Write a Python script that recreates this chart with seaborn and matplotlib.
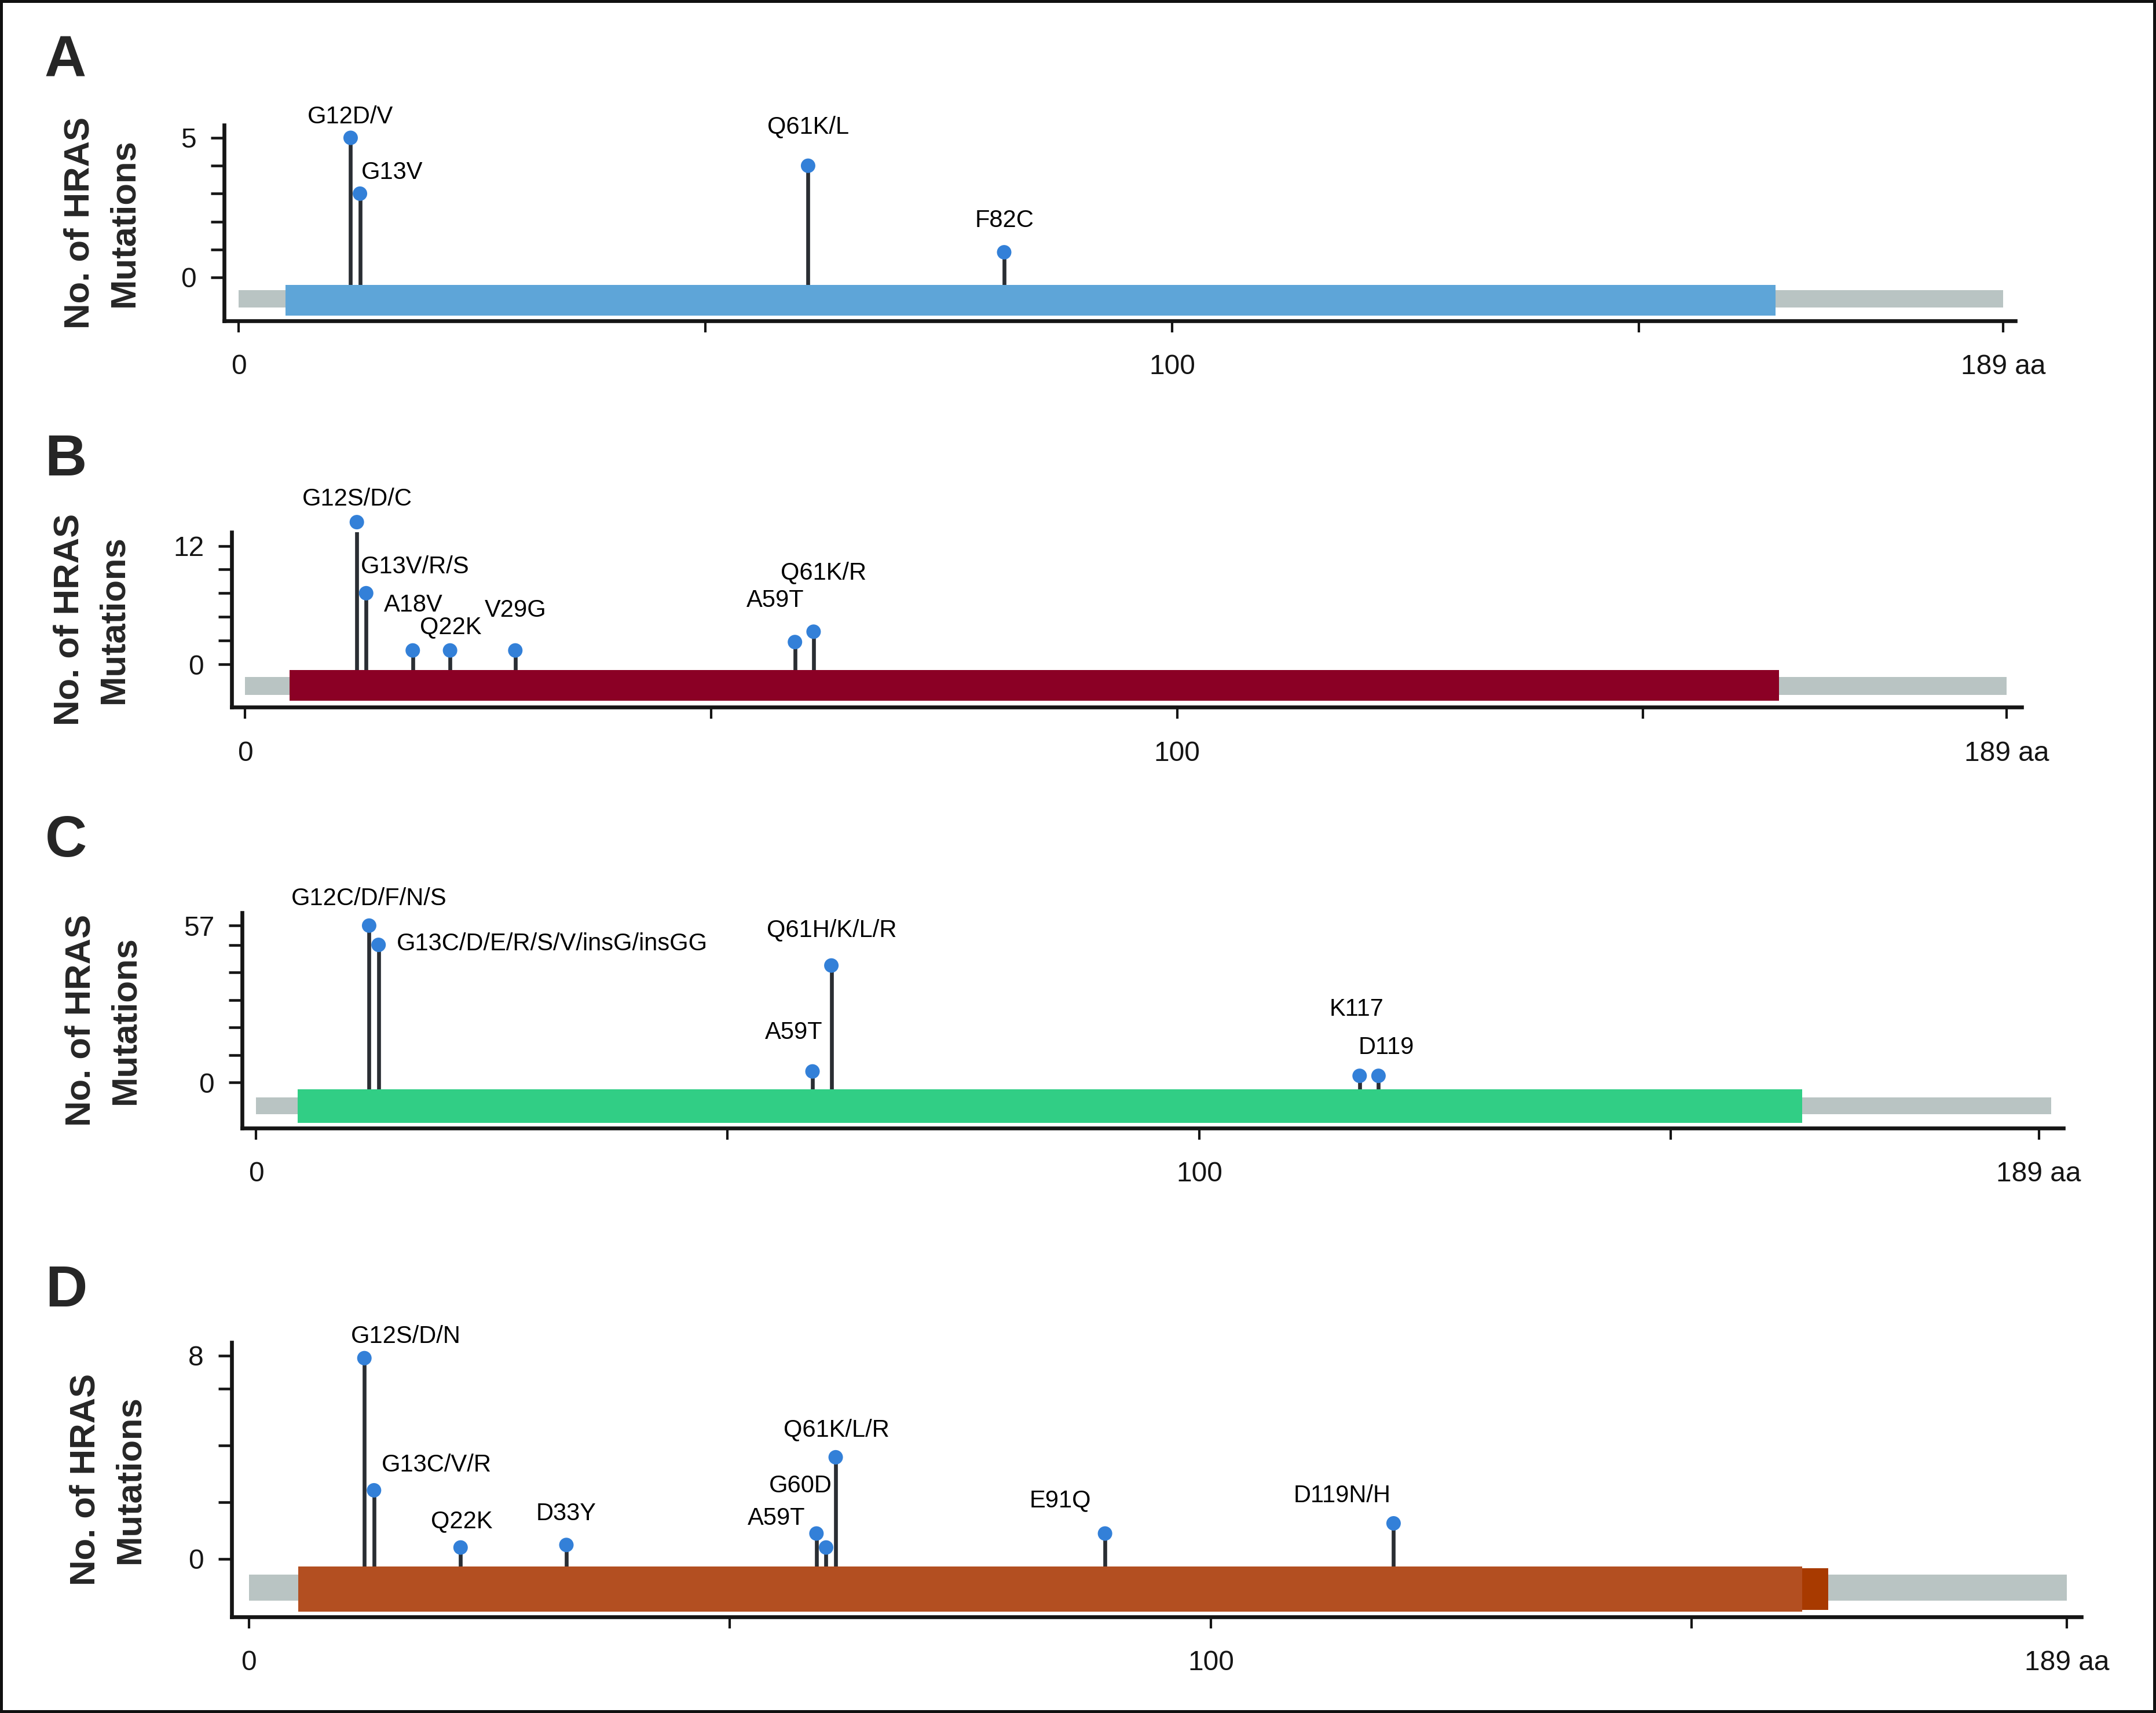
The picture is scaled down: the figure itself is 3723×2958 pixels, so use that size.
import numpy as np
import pandas as pd
import matplotlib
matplotlib.use("Agg")
import matplotlib.pyplot as plt
import seaborn as sns

# ---------------- data ----------------
x_ticks = [0, 50, 100, 150, 189]
x_tick_labels = ["0", "", "100", "", "189 aa"]
panel_letters = ["A", "B", "C", "D"]
y_label = "No. of HRAS\nMutations"

a_pos = [12, 13, 61, 82]
a_count = [5, 3, 4, 0.9]
a_label = ["G12D/V", "G13V", "Q61K/L", "F82C"]
a_yticks = [0, 1, 2, 3, 4, 5]
a_backbone = (0, 189)
a_domains = [(5, 164.6)]

b_pos = [12, 13, 18, 22, 29, 59, 61]
b_count = [14.4, 7.2, 1.4, 1.4, 1.4, 2.25, 3.3]
b_label = ["G12S/D/C", "G13V/R/S", "A18V", "Q22K", "V29G", "A59T", "Q61K/R"]
b_yticks = [0, 2.4, 4.8, 7.2, 9.6, 12]
b_backbone = (0, 189)
b_domains = [(4.8, 164.6)]

c_pos = [12, 13, 59, 61, 117, 119]
c_count = [57, 50, 4, 42.5, 2.4, 2.4]
c_label = ["G12C/D/F/N/S", "G13C/D/E/R/S/V/insG/insGG", "A59T", "Q61H/K/L/R", "K117", "D119"]
c_yticks = [0, 10, 20, 30, 40, 50, 57]
c_backbone = (0, 190.3)
c_domains = [(4.4, 163.9)]

d_pos = [12, 13, 22, 33, 59, 60, 61, 89, 119]
d_count = [7.9, 2.7, 0.45, 0.55, 1.0, 0.45, 4.0, 1.0, 1.4]
d_label = ["G12S/D/N", "G13C/V/R", "Q22K", "D33Y", "A59T", "G60D", "Q61K/L/R", "E91Q", "D119N/H"]
d_yticks = [0, 2.23, 4.46, 6.7, 8]
d_backbone = (0, 189)
d_domains = [(5.1, 161.5), (161.5, 164.2)]

# ---------------- style / layout ----------------
W, H, DPI = 3723, 2958, 300
PX2PT = 72 / DPI

gray = "#b9c4c3"
dot_color = "#3380d8"
stem_color = "#2a2e33"
axis_color = "#151515"

panels = [
    dict(pos=a_pos, count=a_count, label=a_label, yticks=a_yticks, backbone=a_backbone,
         domains=a_domains, dom_colors=["#5ea5d8"], dom_fracs=[(0.027, 0.183)], gray_frac=(0.068, 0.157),
         box=(387, 3480, 216, 554), xlim=(-1.55, 190.3), ylim=(-1.556, 5.456),
         ylab_cx=176, letter_xy=(113, 106),
         offsets=[(0, 36, "center"), (2, 36, "left"), (0, 67, "center"), (1, 55, "center")]),
    dict(pos=b_pos, count=b_count, label=b_label, yticks=b_yticks, backbone=b_backbone,
         domains=b_domains, dom_colors=["#8b0025"], dom_fracs=[(0.036, 0.212)], gray_frac=(0.070, 0.173),
         box=(400, 3491, 919, 1221), xlim=(-1.43, 190.6), ylim=(-4.34, 13.38),
         ylab_cx=158, letter_xy=(113, 795),
         offsets=[(1, 40, "center"), (-9, 45, "left"), (1, 78, "center"), (1, 40, "center"),
                  (0, 69, "center"), (-34, 72, "center"), (17, 102, "center")]),
    dict(pos=c_pos, count=c_count, label=c_label, yticks=c_yticks, backbone=c_backbone,
         domains=c_domains, dom_colors=["#31ce85"], dom_fracs=[(0.023, 0.180)], gray_frac=(0.062, 0.142),
         box=(418, 3563, 1576, 1947.5), xlim=(-1.47, 191.6), ylim=(-16.5, 61.7),
         ylab_cx=178, letter_xy=(114, 1453),
         offsets=[(0, 46, "center"), (31, 2, "left"), (-32, 67, "center"), (1, 61, "center"),
                  (-5, 115, "center"), (13, 49, "center")]),
    dict(pos=d_pos, count=d_count, label=d_label, yticks=d_yticks, backbone=d_backbone,
         domains=d_domains, dom_colors=["#b34f21", "#a83a00"], dom_fracs=[(0.019, 0.184), (0.025, 0.177)],
         gray_frac=(0.059, 0.154),
         box=(400, 3594, 2318, 2792), xlim=(-1.8, 190.5), ylim=(-2.28, 8.52),
         ylab_cx=186, letter_xy=(114, 2230),
         offsets=[(72, 37, "center"), (108, 43, "center"), (2, 45, "center"), (0, 54, "center"),
                  (-69, 26, "center"), (-44, 106, "center"), (1, 47, "center"), (-77, 57, "center"),
                  (-89, 47, "center")]),
]

sns.set_style("ticks")
plt.rcParams["font.family"] = ["Liberation Sans", "DejaVu Sans"]
plt.rcParams["axes.edgecolor"] = axis_color

fig = plt.figure(figsize=(W / DPI, H / DPI), dpi=DPI)
fig.patch.set_facecolor("white")

for letter, p in zip(panel_letters, panels):
    l, r, t, b = p["box"]
    ax = fig.add_axes([l / W, 1 - b / H, (r - l) / W, (b - t) / H])
    ax.set_facecolor("white")
    ax.set_xlim(*p["xlim"])
    ax.set_ylim(*p["ylim"])

    # protein backbone and domains
    ax.axvspan(p["backbone"][0], p["backbone"][1], ymin=p["gray_frac"][0], ymax=p["gray_frac"][1],
               color=gray, lw=0, zorder=1)
    for (s, e), c, (f0, f1) in zip(p["domains"], p["dom_colors"], p["dom_fracs"]):
        ax.axvspan(s, e, ymin=f0, ymax=f1, color=c, lw=0, zorder=2)

    # lollipop stems (start inside the domain bar, hidden beneath it)
    y0, y1 = p["ylim"]
    base = y0 + 0.1 * (y1 - y0)
    ax.vlines(p["pos"], base, p["count"], colors=stem_color, lw=1.6, zorder=1.5)

    df = pd.DataFrame({"pos": p["pos"], "count": p["count"]})
    sns.scatterplot(data=df, x="pos", y="count", ax=ax, color=dot_color, s=36,
                    edgecolor="none", linewidth=0, zorder=3, clip_on=False, legend=False)

    for x, c, lab, (dx, dy, ha) in zip(p["pos"], p["count"], p["label"], p["offsets"]):
        ax.annotate(lab, xy=(x, c), xytext=(dx * PX2PT, dy * PX2PT), textcoords="offset points",
                    ha=ha, va="center", fontsize=10, color="black", annotation_clip=False)

    # axes styling
    sns.despine(ax=ax)
    for side in ["left", "bottom"]:
        ax.spines[side].set_linewidth(1.6)
        ax.spines[side].set_color(axis_color)
    ax.set_xticks(x_ticks)
    ax.set_xticklabels(x_tick_labels)
    yt = p["yticks"]
    ax.set_yticks(yt)
    ax.set_yticklabels([f"{yt[0]:g}"] + [""] * (len(yt) - 2) + [f"{yt[-1]:g}"])
    ax.tick_params(axis="x", length=4.8, width=1.0, pad=9, labelsize=11.5, colors=axis_color)
    ax.tick_params(axis="y", length=5.5, width=1.1, pad=6, labelsize=11.5, colors=axis_color)
    ax.set_xlabel("")
    ax.set_ylabel(y_label, fontsize=14.8, fontweight="bold", linespacing=1.45,
                  va="center", ha="center", multialignment="center")
    ax.yaxis.set_label_coords((p["ylab_cx"] - l) / (r - l), 0.5)

    lx, ly = p["letter_xy"]
    fig.text(lx / W, 1 - ly / H, letter, fontsize=24, fontweight="bold", ha="center", va="center")

# outer frame
fig.patches.append(plt.Rectangle((0, 0), 1, 1, transform=fig.transFigure, fill=False,
                                 lw=2.4, edgecolor="#111111", zorder=10))

fig.savefig("out.png", dpi=DPI, facecolor="white")
